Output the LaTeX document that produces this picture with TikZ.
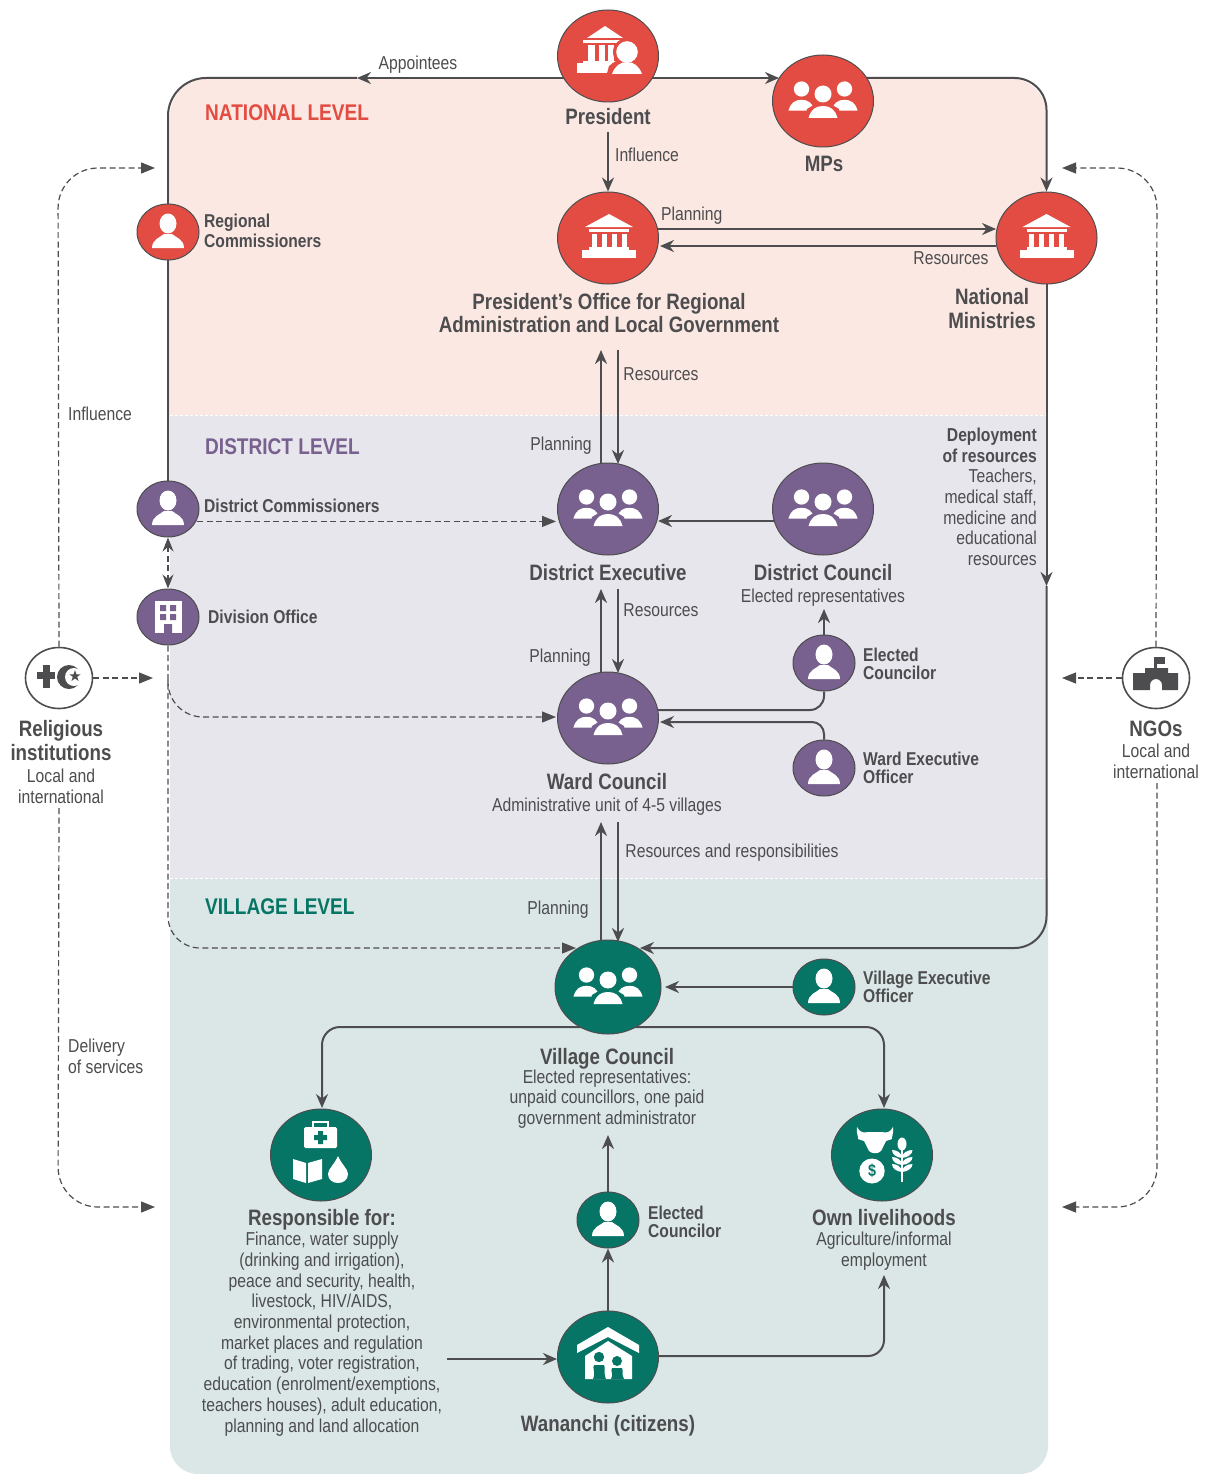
\documentclass[tikz,border=0pt]{standalone}
\usepackage{fontspec}
\setmainfont{Liberation Sans}[FakeStretch=0.84]
\usetikzlibrary{arrows.meta,shapes.geometric}
\definecolor{natbg}{HTML}{FBE8E3}
\definecolor{disbg}{HTML}{E8E6ED}
\definecolor{vilbg}{HTML}{DAE7E6}
\definecolor{redc}{HTML}{E34C42}
\definecolor{purc}{HTML}{78608F}
\definecolor{teac}{HTML}{067566}
\definecolor{ink}{HTML}{4D4D4F}
\pgfdeclarelayer{bgl}\pgfdeclarelayer{lines}\pgfsetlayers{bgl,lines,main}
\tikzset{
 bigc/.style={ellipse,draw=ink,line width=1pt,inner sep=0pt,minimum width=101pt,minimum height=92pt},
 smallc/.style={ellipse,draw=ink,line width=1pt,inner sep=0pt,minimum width=62pt,minimum height=56pt},
 ringc/.style={ellipse,draw=ink,line width=1.6pt,fill=white,inner sep=0pt,minimum width=67pt,minimum height=61pt},
 boldl/.style={text=ink,font=\bfseries\fontsize{22.3}{24}\selectfont,align=center,inner sep=0pt},
 smalll/.style={text=ink,font=\bfseries\fontsize{18.6}{18.5}\selectfont,align=left,anchor=west,inner sep=0pt},
 plainl/.style={text=ink,font=\fontsize{18.7}{20.7}\selectfont,align=center,inner sep=0pt},
 levell/.style={font=\bfseries\fontsize{22.7}{26}\selectfont,anchor=west,inner sep=0pt},
 conn/.style={draw=ink,line width=2.4pt},
 arr/.style={conn,-{Stealth[length=14pt,width=12pt]}},
 thin conn/.style={draw=ink,line width=2pt},
 thinarr/.style={thin conn,-{Stealth[length=14pt,width=12pt]}},
 dash conn/.style={draw=ink,line width=1.2pt,dash pattern=on 6pt off 3.5pt},
 dasharr/.style={dash conn,-{Stealth[length=14pt,width=11pt,inset=0pt]}},
 dashboth/.style={dash conn,{Stealth[length=14pt,width=11pt]}-{Stealth[length=14pt,width=11pt]}},
}
% x, y, scale, colour
\newcommand\iconperson[4]{\begin{scope}[shift={(#1,#2)},scale=#3]
 \fill[#4] (0,-8.5) ellipse (8.5 and 10);
 \fill[#4] (-16,16) .. controls (-16,7) and (-7,5) .. (-4,2) -- (4,2) .. controls (7,5) and (16,7) .. (16,16) -- cycle;
\end{scope}}
% head centre x, y, scale, colour
\newcommand\iconmember[4]{\begin{scope}[shift={(#1,#2)},scale=#3]
 \fill[#4] (0,0) circle (8.5);
 \fill[#4] (-14.5,24) .. controls (-12,15) and (-7,12) .. (0,12) .. controls (7,12) and (12,15) .. (14.5,24) -- cycle;
\end{scope}}
% x, y, background
\newcommand\iconteam[3]{\begin{scope}[shift={(#1,#2)}]
 \iconmember{-21.5}{-8}{0.9}{white}\iconmember{21.5}{-8}{0.9}{white}
 \fill[#3] (0,-3) circle (11);
 \fill[#3] (-18,22) -- (-16,12) -- (-6,6) -- (6,6) -- (16,12) -- (18,22) -- cycle;
 \iconmember{0}{-3}{1}{white}
\end{scope}}
% x, y, scale, background
\newcommand\iconbank[4]{\begin{scope}[shift={(#1,#2)},scale=#3]
 \fill[white] (-24,-11) -- (0,-24) -- (24,-11) -- cycle;
 \fill[white] (-20,-9) rectangle (20,-6);
 \foreach \cx in {-15,-5,5,15} \fill[white] (\cx-2.5,-4) rectangle (\cx+2.5,9);
 \fill[white] (-20,9) rectangle (20,12);
 \fill[white] (-27,12) rectangle (27,20);
\end{scope}}
\begin{document}
\begin{tikzpicture}[x=1pt,y=-1pt]
\useasboundingbox (0,0) rectangle (1208,1474);
\begin{pgfonlayer}{bgl}
 \fill[white] (0,0) rectangle (1208,1474);
 \fill[natbg] (170,416) [rounded corners=38pt] -- (170,78) -- (1047,78) [sharp corners] -- (1047,416) -- cycle;
 \fill[disbg] (170,415) rectangle (1047,878);
 \fill[vilbg] (170,878) [rounded corners=28pt] -- (170,1474) -- (1048,1474) [sharp corners] -- (1048,878) -- cycle;
 \draw[white,line width=.8pt,dash pattern=on 3pt off 2pt] (170,415) -- (1047,415);
 \draw[white,line width=.8pt,dash pattern=on 3pt off 2pt] (170,878) -- (1047,878);
\end{pgfonlayer}

% --- nodes
\node[bigc,fill=redc] (president) at (608,56) {};
\node[bigc,fill=redc] (mps) at (823,101) {};
\node[bigc,fill=redc] (poralg) at (608,238) {};
\node[bigc,fill=redc] (ministries) at (1046.5,238) {};
\node[smallc,fill=redc] (rc) at (168,232) {};
\node[smallc,fill=purc] (dc) at (168,509) {};
\node[smallc,fill=purc] (division) at (168,617) {};
\node[bigc,fill=purc] (dexec) at (608,509) {};
\node[bigc,fill=purc] (dcouncil) at (823,509) {};
\node[smallc,fill=purc] (ecward) at (824,663) {};
\node[smallc,fill=purc] (weo) at (824,768) {};
\node[bigc,fill=purc] (ward) at (608,718) {};
\node[bigc,fill=teac,minimum width=106pt,minimum height=94pt] (vcouncil) at (608,987) {};
\node[smallc,fill=teac] (veo) at (824,987) {};
\node[bigc,fill=teac] (resp) at (321,1155) {};
\node[bigc,fill=teac] (own) at (882,1155) {};
\node[smallc,fill=teac] (ecvil) at (608,1220) {};
\node[bigc,fill=teac] (wananchi) at (608,1357) {};
\node[ringc] (relig) at (59,678) {};
\node[ringc] (ngo) at (1156,678) {};

% --- labels
\node[levell,text=redc] (tnat) at (205,113) {NATIONAL LEVEL};
\node[levell,text=purc] (tdis) at (205,447) {DISTRICT LEVEL};
\node[levell,text=teac] (tvil) at (205,907) {VILLAGE LEVEL};
\node[boldl] (tpresident) at (608,116.5) {President};
\node[boldl] (tmps) at (824,164) {MPs};
\node[boldl] (tporalg) at (609,313) {President’s Office for Regional\\[-1.5pt]Administration and Local Government};
\node[boldl] (tmin) at (992,309) {National\\Ministries};
\node[smalll] (trc) at (204,231) {Regional\\[1.5pt]Commissioners};
\node[smalll] (tdc) at (204,506) {District Commissioners};
\node[smalll] (tdiv) at (208,617) {Division Office};
\node[boldl] (tdexec) at (608,573) {District Executive};
\node[boldl] (tdcouncil) at (823,573) {District Council};
\node[plainl] (tdcsub) at (823,597.5) {Elected representatives};
\node[smalll] (tecw) at (863,664) {Elected\\Councilor};
\node[smalll] (tweo) at (863,768) {Ward Executive\\Officer};
\node[boldl] (tward) at (607,782) {Ward Council};
\node[plainl] (twardsub) at (607,806.5) {Administrative unit of 4-5 villages};
\node[smalll] (tveo) at (863,987) {Village Executive\\Officer};
\node[boldl] (tvc) at (607,1058.5) {Village Council};
\node[plainl] (tvcsub) at (607,1099) {Elected representatives:\\unpaid councillors, one paid\\government administrator};
\node[smalll] (tecv) at (648,1222) {Elected\\Councilor};
\node[boldl] (tresp) at (322,1219.5) {Responsible for:};
\node[plainl] (trespsub) at (322,1334) {Finance, water supply\\(drinking and irrigation),\\peace and security, health,\\livestock, HIV/AIDS,\\environmental protection,\\market places and regulation\\of trading, voter registration,\\education (enrolment/exemptions,\\teachers houses), adult education,\\planning and land allocation};
\node[boldl] (town) at (884,1218) {Own livelihoods};
\node[plainl] (townsub) at (884,1251) {Agriculture/informal\\employment};
\node[boldl] (twan) at (608,1425.5) {Wananchi (citizens)};
\node[boldl] (trelig) at (61,741) {Religious\\institutions};
\node[plainl] (treligsub) at (61,786) {Local and\\international};
\node[boldl] (tngo) at (1156,729) {NGOs};
\node[plainl] (tngosub) at (1156,761) {Local and\\international};
\node[plainl] (tappt) at (418,65) {Appointees};
\node[plainl] (tinfl) at (647,155) {Influence};
\node[plainl,anchor=west] (tp1) at (661,216) {Planning};
\node[plainl] (tr1) at (951,258) {Resources};
\node[plainl] (tr2) at (661,374.5) {Resources};
\node[plainl] (tp2) at (561,446) {Planning};
\node[plainl] (tr3) at (661,610.5) {Resources};
\node[plainl] (tp3) at (560,657.5) {Planning};
\node[plainl] (tr4) at (732,853) {Resources and responsibilities};
\node[plainl] (tp4) at (558,909.5) {Planning};
\node[plainl,anchor=west] (tinfl2) at (68,414) {Influence};
\node[plainl,anchor=west,align=left] (tdel) at (68,1056.5) {Delivery\\of services};
\node[text=ink,font=\fontsize{18.7}{20.6}\selectfont,align=right,anchor=north east,inner sep=0pt] (tdep) at (1037,428)
 {\textbf{Deployment}\\\textbf{of resources}\\Teachers,\\medical staff,\\medicine and\\educational\\resources};

% --- icons
\fill[white] (587,38) -- (605,26) -- (623,38) -- cycle;
\fill[white] (583,40) rectangle (623,43);
\foreach \cx in {591.5,602,611} \fill[white] (\cx-3.2,45) rectangle (\cx+3.2,62);
\fill[white] (583,61) rectangle (617,63.5);
\fill[white] (577,63.5) rectangle (612,73.5);
\fill[redc] (627,52) circle (14);
\fill[redc] (606,77) -- (609,66) -- (620,58) -- (636,58) -- (650,66) -- (650,77) -- cycle;
\fill[white] (627,52) circle (10.8);
\fill[white] (612,74) .. controls (615,66) and (620,62) .. (627,62) .. controls (634,62) and (639,66) .. (642,74) -- cycle;
\iconteam{823}{97}{redc}
\iconbank{609}{238}{1}{redc}
\iconbank{1046.5}{238}{1}{redc}
\iconperson{168}{232}{1}{white}
\iconperson{168}{509}{1}{white}
\iconteam{608}{505}{purc}
\iconteam{823}{505}{purc}
\iconteam{608}{714}{purc}
\iconperson{824}{663}{1}{white}
\iconperson{824}{768}{1}{white}
\iconteam{608}{983}{teac}
\iconperson{824}{987}{1}{white}
\iconperson{608}{1220}{1}{white}
% division office
\fill[white] (155,601) rectangle (182,633);
\fill[purc] (160,605) rectangle (166,611) (170,605) rectangle (176,611) (160,614) rectangle (166,620) (170,614) rectangle (176,620) (164,624) rectangle (172,633);
% cross and crescent
\fill[ink] (43,665) rectangle (49.5,688);
\fill[ink] (37,672) rectangle (55,678.5);
\fill[ink] (69,677) circle (12);
\fill[white] (74,677) circle (9);
\fill[ink] (75,670) -- (78.5,681) -- (69.3,674.3) -- (80.7,674.3) -- (71.5,681) -- cycle;
% NGO building
\fill[ink] (1133,673) -- (1145,673) -- (1145,668) -- (1168,668) -- (1168,673) -- (1178,673) -- (1178,690) -- (1162,690) -- (1162,685) arc (0:-180:6) -- (1150,690) -- (1133,690) -- cycle;
\fill[ink] (1154,657) rectangle (1156.5,668);
\fill[ink] (1156,657) rectangle (1165,664);
% health icons
\fill[white,rounded corners=1.5pt] (304,1127) rectangle (337,1148);
\draw[white,line width=2pt] (313,1127) -- (313,1122) -- (328,1122) -- (328,1127);
\fill[teac] (318,1131) rectangle (323,1144) (314,1135) rectangle (327,1140);
\fill[white] (293,1159) -- (306,1163) -- (306,1183) -- (293,1179) -- cycle;
\fill[white] (308,1163) -- (322,1159) -- (322,1179) -- (308,1183) -- cycle;
\fill[white] (338,1156) .. controls (342,1165) and (348,1169) .. (348,1174) .. controls (348,1180) and (343,1183) .. (338,1183) .. controls (333,1183) and (328,1180) .. (328,1174) .. controls (328,1169) and (334,1165) .. (338,1156) -- cycle;
% livelihood icons
\fill[white] (857,1127) .. controls (860,1133) and (864,1133) .. (868,1132) -- (882,1132) .. controls (886,1133) and (890,1133) .. (893,1127) .. controls (894,1134) and (891,1138) .. (892,1139) -- (886,1141) -- (881,1151) .. controls (878,1154) and (872,1154) .. (869,1151) -- (864,1141) -- (858,1139) .. controls (859,1138) and (856,1134) .. (857,1127) -- cycle;
\fill[white] (872,1171) ellipse (12.7 and 12.5);
\node[text=teac,font=\bfseries\fontsize{17}{17}\selectfont,inner sep=0pt] (dollar) at (872,1171) {\$};
\draw[white,line width=1.8pt] (902,1145) -- (902,1182);
\foreach \wy in {1158,1165,1172} {
 \fill[white] (902,\wy) .. controls (896,\wy-0.5) and (892,\wy-4) .. (892,\wy-8) .. controls (897,\wy-8) and (902,\wy-5) .. (902,\wy) -- cycle;
 \fill[white] (902,\wy) .. controls (908,\wy-0.5) and (912.5,\wy-4) .. (912.5,\wy-8) .. controls (907,\wy-8) and (902,\wy-5) .. (902,\wy) -- cycle;
}
\fill[white] (902,1144) ellipse (4.5 and 6.5);
% house icon
\fill[white] (577,1345) -- (608,1327) -- (639,1345) -- (639,1353) -- (608,1337) -- (577,1353) -- cycle;
\fill[white] (585,1356) -- (608,1341) -- (632,1356) -- (632,1379) -- (585,1379) -- cycle;
\fill[teac] (599,1357) circle (5.2) (617,1361) circle (5);
\fill[teac] (593,1379) .. controls (596,1372) and (592,1368) .. (594,1365) -- (604,1365) .. controls (606,1368) and (603,1372) .. (606,1379) -- cycle;
\fill[teac] (611,1379) .. controls (614,1374) and (610,1371) .. (612,1368) -- (622,1368) .. controls (624,1371) and (621,1374) .. (624,1379) -- cycle;

% --- connectors
\begin{pgfonlayer}{lines}
 % outer solid frame
 \coordinate (apptend) at (357,78);
 \coordinate (presL) at (565,78);
 \coordinate (presR) at (650,78);
 \coordinate (mpsL) at (779,78);
 \coordinate (mpsR) at (865,78);
 \draw[thinarr] (presL) -- (apptend);
 \draw[thin conn,rounded corners=38pt] (apptend) -- (168,78) -- (dc.center);
 \draw[thinarr] (presR) -- (mpsL);
 \draw[thinarr,rounded corners=32pt] (mpsR) -- (ministries.north |- mpsR) -- (ministries.north);
 \coordinate (deployend) at (1046.5,586);
 \coordinate (vcR) at (640,948);
 \draw[thinarr] (ministries.center) -- (deployend);
 \draw[thinarr,rounded corners=32pt] (deployend) -- (deployend |- vcR) -- (vcR);
 % national
 \draw[arr] (tpresident.south |- 0,132) -- (poralg.north);
 \coordinate (pA) at (658,229); \coordinate (pB) at (996,229);
 \coordinate (rA) at (660,246); \coordinate (rB) at (996,246);
 \draw[thinarr] (pA) -- (pB);
 \draw[thinarr] (rB) -- (rA);
 % POR - district executive
 \coordinate (u1a) at (601,466); \coordinate (u1b) at (601,350);
 \coordinate (d1a) at (618,350); \coordinate (d1b) at (618,464);
 \draw[arr] (u1a) -- (u1b);
 \draw[arr] (d1a) -- (d1b);
 % district executive - ward
 \coordinate (u2a) at (601,675); \coordinate (u2b) at (601,589);
 \coordinate (d2a) at (618,589); \coordinate (d2b) at (618,673);
 \draw[arr] (u2a) -- (u2b);
 \draw[arr] (d2a) -- (d2b);
 % ward - village
 \coordinate (u3a) at (601,944); \coordinate (u3b) at (601,822);
 \coordinate (d3a) at (618,822); \coordinate (d3b) at (618,942);
 \draw[arr] (u3a) -- (u3b);
 \draw[arr] (d3a) -- (d3b);
 % councils
 \coordinate (dcL) at (775,521); \coordinate (deR) at (658,521);
 \draw[arr] (dcL) -- (deR);
 \coordinate (ectop) at (824,609);
 \draw[arr] (ecward.north) -- (ectop);
 \coordinate (wardR1) at (650,710); \coordinate (wardR2) at (660,722);
 \draw[thin conn,rounded corners=14pt] (ecward.south) -- (824,710) -- (wardR1);
 \draw[thinarr,rounded corners=12pt] (weo.north) -- (824,722) -- (wardR2);
 \coordinate (vcE) at (665,987);
 \draw[arr] (veo.west) -- (vcE);
 % village
 \coordinate (vcS) at (608,1027);
 \coordinate (respN) at (322,1108); \coordinate (ownN) at (884,1108);
 \draw[thinarr,rounded corners=18pt] (vcS) -- (322,1027) -- (respN);
 \draw[thinarr,rounded corners=18pt] (vcS) -- (884,1027) -- (ownN);
 \coordinate (vctxt) at (608,1135);
 \draw[arr] (ecvil.north) -- (vctxt);
 \draw[arr] (wananchi.north) -- (ecvil.south);
 \coordinate (respE) at (447,1359);
 \draw[arr] (respE) -- (wananchi.west |- respE);
 \coordinate (ownS) at (884,1275);
 \draw[thinarr,rounded corners=16pt] (wananchi.east |- 0,1356) -- (884,1356) -- (ownS);
 % dashed internal
 \coordinate (dcE) at (197,521.4); \coordinate (deW) at (556,521.4);
 \draw[dasharr] (dcE) -- (deW);
 \draw[dashboth] (dc.south) -- (division.north);
 \coordinate (wardW) at (556,717); \coordinate (vcW) at (576,948);
 \coordinate (divbranch) at (168,680);
 \draw[dasharr,rounded corners=35pt] (divbranch) -- (168,717) -- (wardW);
 \draw[dasharr,rounded corners=32pt] (division.south) -- (168,948) -- (vcW);
 % dashed outer
 \coordinate (lT) at (155,168); \coordinate (lB) at (155,1207); \coordinate (lM) at (153,678);
 \coordinate (rT) at (1062,168); \coordinate (rB) at (1062,1207); \coordinate (rM) at (1062,678);
 \coordinate (lS) at (59,808); \coordinate (rS) at (1157,783);
 \draw[dasharr,rounded corners=40pt] (relig.north) -- (58,168) -- (lT);
 \draw[dasharr,rounded corners=40pt] (lS) -- (58,1207) -- (lB);
 \draw[dasharr] (relig.east) -- (lM);
 \draw[dasharr,rounded corners=40pt] (ngo.north) -- (1157,168) -- (rT);
 \draw[dasharr,rounded corners=40pt] (rS) -- (1157,1207) -- (rB);
 \draw[dasharr] (ngo.west) -- (rM);
\end{pgfonlayer}
\end{tikzpicture}
\end{document}
